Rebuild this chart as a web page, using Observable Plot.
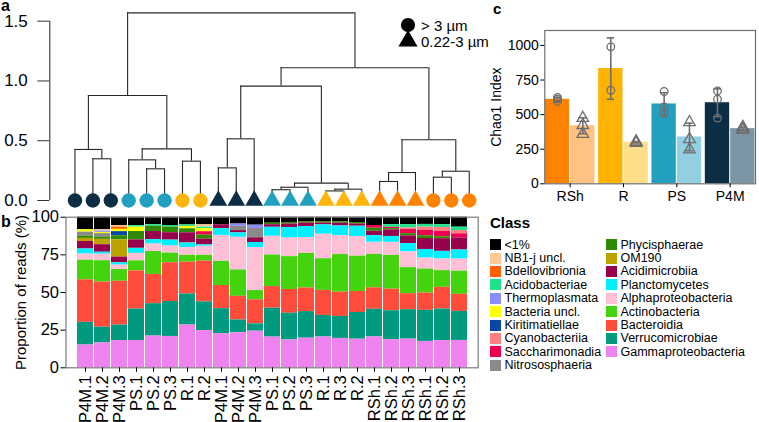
<!DOCTYPE html>
<html><head><meta charset="utf-8">
<script src="https://cdn.jsdelivr.net/npm/d3@7"></script>
<script src="https://cdn.jsdelivr.net/npm/@observablehq/plot@0.6"></script>
<style>
html,body{margin:0;padding:0;background:#fff;}
#root{position:relative;width:759px;height:422px;overflow:hidden;font-family:"Liberation Sans",Arial,Helvetica,sans-serif;color:#000;}
.pn{position:absolute;}
.plab{position:absolute;font-weight:bold;font-size:16px;line-height:11px;}
#clsTitle{position:absolute;left:490px;top:215px;font-weight:bold;font-size:15px;line-height:1;}
.cls-swatches-columns{columns:2 !important;column-gap:0 !important;width:232px;margin:0 !important;}
.cls-swatch{padding-bottom:0 !important;height:13.4px;}
.cls-swatch > svg{margin-right:3.5px !important;}
.cls-swatch-label{overflow:visible !important;}
.sym-swatches-columns{margin:0 !important;}
.sym-swatch{padding-bottom:0 !important;height:16px;}
.sym-swatch > svg{margin-right:5px !important;}
.sym-swatch-label{overflow:visible !important;}
</style></head>
<body><div id="root">
<div class="pn" id="pa" style="left:0;top:0"></div>
<div class="pn" id="pb" style="left:0;top:205px"></div>
<div class="pn" id="pc" style="left:480px;top:0"></div>
<div class="pn" id="sym" style="left:400px;top:17px"></div>
<div id="clsTitle">Class</div>
<div class="pn" id="cls" style="left:490px;top:238px"></div>
<div class="plab" style="left:1px;top:0px">a</div>
<div class="plab" style="left:1px;top:216px">b</div>
<div class="plab" style="left:493px;top:3px;font-size:15px">c</div>
</div>
<script>
const FONT = '"Liberation Sans", Arial, Helvetica, sans-serif';

// ---------- samples (x order of panels a and b) ----------
const samples = ["P4M.1","P4M.2","P4M.3","PS.1","PS.2","PS.3","R.1","R.2",
  "P4M.1","P4M.2","P4M.3","PS.1","PS.2","PS.3","R.1","R.3","R.2",
  "RSh.1","RSh.2","RSh.3","RSh.1","RSh.2","RSh.3"];
const fractions = ["L","L","L","L","L","L","L","L",
  "S","S","S","S","S","S","S","S","S","S","S","S","L","L","L"];
const sizeLabels = ["> 3 µm", "0.22-3 µm"];
const sites = ["P4M","PS","R","RSh"];
const siteColors = ["#0B2E45","#22A0BF","#FFB60A","#FF8300"];

// ---------- panel b: class composition (% of reads) ----------
const classes = ["<1%","NB1-j uncl.","Bdellovibrionia","Acidobacteriae","Thermoplasmata","Bacteria uncl.",
  "Kiritimatiellae","Cyanobacteriia","Saccharimonadia","Nitrososphaeria","Phycisphaerae","OM190",
  "Acidimicrobiia","Planctomycetes","Alphaproteobacteria","Actinobacteria","Bacteroidia",
  "Verrucomicrobiae","Gammaproteobacteria"];
const classColors = ["#000000","#FFC993","#FF5F00","#1EE38A","#8C8CFF","#FFFF00",
  "#0A46A5","#FF8080","#EE0051","#8A8A8A","#2E8B00","#BBA400",
  "#97004A","#00F0FF","#FFBFD5","#44D40E","#FF4C3B",
  "#009A7F","#EE82EE"];

const lt1      = [8.2,8.2,5.5,5.5,4.9,5.5,5.0,5.0,5.0,4.5,5.3,4.0,3.5,3.0,3.0,3.0,3.5,5.5,5.0,5.0,4.8,5.0,6.6];
const nb1j     = [0,0.8,1.0,0,0,0,0,1.5,0,0,0,0,0,0,0,0,0,0,0,0,0,0,0];
const bdello   = [0,0,1.5,0,0,0,0,0,0,0,0,0,0,0,0,0,0,0,0,0,0,0,0];
const acidob   = [0,0,0,1.0,1.0,1.0,1.0,1.0,0,0,0,0,0,0,0,0,0,0,1.8,2.2,1.8,1.8,2.2];
const thermo   = [0,0.9,0,0,0,0,0,0,0,1.5,2.2,0,0,0,0,0,0,0,0,0,0,0,0];
const bactUncl = [1.5,0.8,1.5,2.9,0,0,1.5,2.0,0,0,0,0,0,0,0,0,0,0,0,0,0,0,0];
const kiriti   = [0,0,2.7,0,0,0,0,0,0,0,0,0,0,0,0,0,0,0,0,0,0,0,0];
const cyano    = [0,0,0,0,0,0,0,0,0,0,0,0,0,0,0,0,0,0,0,1.0,2.2,2.7,2.2];
const sacchar  = [0,0,0,0,0,0,0,2.2,0,0,0,0,0,0,0,0,0,1.8,0.9,2.7,3.5,3.5,2.7];
const nitroso  = [2.6,2.2,0,0,0,0,0,0,0,2.8,6.2,0,0,0,0,0,0,0,0,0,0,0,0];
const phycis   = [1.5,1.5,2.7,5.5,3.5,3.8,2.6,2.6,0,0,0,1.0,1.0,0.8,0.8,1.0,1.0,2.0,0.9,1.5,1.8,1.3,0];
const om190    = [2.0,3.5,11.3,0,0,0,0,0,0,0,0,0,0,0,0,0,0,0,0,0,0,0,0];
const acidim   = [4.9,4.9,3.8,5.5,5.3,4.9,6.6,3.8,2.6,1.5,3.1,1.7,2.4,2.4,1.3,1.8,1.5,2.9,4.4,5.1,7.3,8.4,8.0];
const plancto  = [3.3,1.3,1.5,3.3,2.9,3.9,2.9,0.9,4.5,2.9,3.6,6.0,6.9,7.3,6.2,6.4,6.8,4.4,4.0,5.5,5.7,5.1,6.0];
const alpha    = [4.0,4.2,2.9,4.9,4.9,4.7,5.1,5.9,17.2,21.4,28.3,12.4,12.3,10.6,16.2,12.6,13.1,8.0,8.8,10.4,7.3,7.7,8.0];
const actino   = [12.8,13.9,7.7,6.6,15.0,6.4,4.4,3.8,16.0,17.3,6.2,21.0,21.7,23.0,21.0,25.0,23.4,22.1,22.8,17.3,15.9,11.1,15.3];
const bacteroid= [27.7,29.4,28.8,25.0,19.2,25.7,20.6,26.6,15.4,15.5,15.9,14.4,15.7,15.7,16.6,16.1,14.0,14.2,14.6,10.6,11.5,14.4,11.3];
const verruco  = [14.8,10.2,10.2,20.6,21.2,23.2,20.1,18.8,16.6,8.4,4.9,19.2,17.7,17.7,14.3,14.6,17.7,18.3,19.5,19.5,20.6,21.0,19.2];
const gamma    = [14.8,16.2,17.9,17.9,20.8,20.8,27.7,24.3,22.6,23.0,24.3,20.4,18.4,19.7,20.4,19.5,19.0,20.4,19.0,19.0,17.5,18.1,18.1];
const classSeries = [lt1,nb1j,bdello,acidob,thermo,bactUncl,kiriti,cyano,sacchar,nitroso,phycis,om190,
  acidim,plancto,alpha,actino,bacteroid,verruco,gamma];

// ---------- panel a: dendrogram [height, left, right], leaves = sample position ----------
const dendro = [1.57,
  [0.879,
    [0.427, 1, [0.349, 2, 3]],
    [0.432, [0.34, 4, [0.265, 5, 6]], [0.329, 7, 8]]],
  [1.11,
    [0.957,
      [0.516, [0.273, 9, 10], 11],
      [0.145, [0.111, [0.09, 12, 13], 14], [0.095, [0.08, 15, 16], 17]]],
    [0.508,
      [0.234, [0.159, 18, 19], 20],
      [0.245, [0.195, 21, 22], 23]]]];
const dendroTicks = [0, 0.5, 1.0, 1.5];

// ---------- panel c: Chao1 ----------
const chaoSites = ["RSh","R","PS","P4M"];
const chaoLarge = [[595,612,625],[990,676],[667,556,508],[671,612,475]];
const chaoSmall = [[475,424,360],[295,300,306],[445,322,248],[410,398,388]];
const chaoColorsLarge = ["#FF8300","#FFB300","#22A0BF","#0B2E45"];
const chaoColorsSmall = ["#FFC283","#FFDE88","#92D0E1","#7A95A6"];
const chaoTicks = [0,250,500,750,1000];

// ================= panel a =================
const vSeg = [], hSeg = [];
function walk(n) {
  if (typeof n === "number") return {x: n, h: 0};
  const [h, a, b] = n;
  const A = walk(a), B = walk(b);
  vSeg.push({x: A.x, y1: A.h, y2: h}, {x: B.x, y1: B.h, y2: h});
  hSeg.push({x1: A.x, x2: B.x, y: h});
  return {x: (A.x + B.x) / 2, h};
}
walk(dendro);
const leaves = samples.map((s, i) => ({pos: i + 1, site: s.split(".")[0], frac: fractions[i]}));
const aXmin = -0.404;
const plotA = Plot.plot({
  width: 480, height: 210, marginLeft: 49.3, marginRight: 2.3, marginTop: 20.7, marginBottom: 10,
  style: {fontFamily: FONT, fontSize: "17px", background: "none", color: "#000", overflow: "visible"},
  x: {domain: [aXmin, 23.5], axis: null},
  y: {domain: [0, 1.5]},
  color: {domain: sites, range: siteColors},
  marks: [
    Plot.ruleX(vSeg, {x: "x", y1: "y1", y2: "y2", stroke: "#262626", strokeWidth: 1.1}),
    Plot.ruleY(hSeg, {y: "y", x1: "x1", x2: "x2", stroke: "#262626", strokeWidth: 1.1}),
    Plot.ruleX([aXmin], {y1: 0, y2: 1.5, stroke: "#333", strokeWidth: 1.1}),
    Plot.axisY({ticks: dendroTicks, tickFormat: d3.format(".1f"), tickSize: 12, tickPadding: 10, label: null, stroke: "#333"}),
    Plot.dot(leaves.filter(d => d.frac === "L"), {x: "pos", y: 0, fill: "site", symbol: "circle", r: 7.2}),
    Plot.dot(leaves.filter(d => d.frac === "S"), {x: "pos", y: 0, fill: "site", symbol: "triangle", r: 6.6})
  ]
});
document.getElementById("pa").append(plotA);

document.getElementById("sym").append(Plot.legend({
  symbol: {domain: sizeLabels, range: ["circle", "triangle"]},
  fill: "black", stroke: "none", r: 7.1, swatchSize: 16, columns: 1, className: "sym",
  style: {fontFamily: FONT, fontSize: "15px", color: "#000"}
}));

// ================= panel b =================
const tidy = [];
samples.forEach((s, i) => classes.forEach((c, j) => tidy.push({idx: i, cls: c, value: classSeries[j][i]})));
const bottomUp = classes.slice().reverse();
const plotB = Plot.plot({
  width: 480, height: 217, marginLeft: 65.5, marginRight: 2.3, marginTop: 11.7, marginBottom: 54.7,
  style: {fontFamily: FONT, fontSize: "16.5px", background: "none", color: "#000", overflow: "visible"},
  x: {type: "band", domain: d3.range(samples.length), paddingInner: 0.08, paddingOuter: 0.04},
  y: {domain: [0, 1]},
  color: {domain: classes, range: classColors},
  marks: [
    Plot.barY(tidy, {x: "idx", y: "value", fill: "cls", order: bottomUp, offset: "normalize"}),
    Plot.frame({stroke: "#7a7a7a", strokeWidth: 1.2}),
    Plot.axisY({ticks: [0, 0.25, 0.5, 0.75, 1], tickFormat: d => Math.round(d * 100), tickSize: 5, tickPadding: 2,
      label: null}),
    Plot.axisY({ticks: [], label: "Proportion of reads (%)", labelAnchor: "center", labelArrow: "none", labelOffset: 51, fontSize: 15}),
    Plot.axisX({tickFormat: i => samples[i], tickRotate: -90, tickSize: 4.5, tickPadding: 3, label: null})
  ]
});
document.getElementById("pb").append(plotB);

document.getElementById("cls").append(Plot.legend({
  color: {domain: classes, range: classColors},
  swatchSize: 11, columns: 2, className: "cls",
  style: {fontFamily: FONT, fontSize: "12.5px", color: "#000"}
}));

// ================= panel c =================
const cRows = [], cPts = [];
chaoSites.forEach((s, i) => {
  [["L", chaoLarge[i], chaoColorsLarge[i]], ["S", chaoSmall[i], chaoColorsSmall[i]]].forEach(([f, vals, col]) => {
    const xc = i + 1 + (f === "L" ? -0.2375 : 0.2375);
    const mean = d3.mean(vals), sd = d3.deviation(vals) || 0;
    cRows.push({key: s + f, col, xc, x1: xc - 0.2375, x2: xc + 0.2375, mean, lo: mean - sd, hi: mean + sd, frac: f});
    vals.forEach(v => cPts.push({xc, v, frac: f}));
  });
});
const plotC = Plot.plot({
  width: 279, height: 215, marginLeft: 64.3, marginRight: 4, marginTop: 30, marginBottom: 31.7,
  style: {fontFamily: FONT, fontSize: "14px", background: "none", color: "#000", overflow: "visible"},
  x: {domain: [0.525, 4.475]},
  y: {domain: [0, 1108]},
  color: {domain: cRows.map(d => d.key), range: cRows.map(d => d.col)},
  marks: [
    Plot.rectY(cRows, {x1: "x1", x2: "x2", y1: 0, y2: "mean", fill: "key", insetLeft: 0.5, insetRight: 0.5}),
    Plot.ruleX(cRows, {x: "xc", y1: "lo", y2: "hi", stroke: "#6e6e6e", strokeWidth: 1.6}),
    Plot.ruleY(cRows, {y: "lo", x1: d => d.xc - 0.07, x2: d => d.xc + 0.07, stroke: "#6e6e6e", strokeWidth: 1.6}),
    Plot.ruleY(cRows, {y: "hi", x1: d => d.xc - 0.07, x2: d => d.xc + 0.07, stroke: "#6e6e6e", strokeWidth: 1.6}),
    Plot.dot(cPts.filter(d => d.frac === "L"), {x: "xc", y: "v", symbol: "circle", r: 3.8, stroke: "#6e6e6e", strokeWidth: 1.3, fill: "none"}),
    Plot.dot(cPts.filter(d => d.frac === "S"), {x: "xc", y: "v", symbol: "triangle", r: 4.3, stroke: "#6e6e6e", strokeWidth: 1.3, fill: "none"}),
    Plot.frame({stroke: "#6e6e6e", strokeWidth: 1.2}),
    Plot.axisY({ticks: chaoTicks, tickFormat: d => String(d), tickSize: 4, tickPadding: 2, label: "Chao1 Index", labelAnchor: "center", labelArrow: "none", labelOffset: 54}),
    Plot.axisX({ticks: [1, 2, 3, 4], tickFormat: i => chaoSites[i - 1], tickSize: 4, tickPadding: 3, label: null})
  ]
});
document.getElementById("pc").append(plotC);
</script>
</body></html>
